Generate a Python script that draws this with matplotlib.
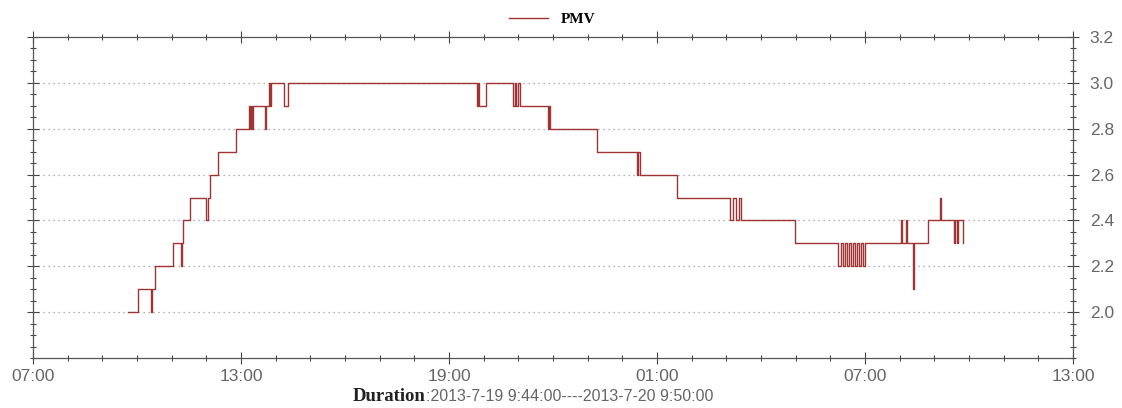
import numpy as np
import pandas as pd
import matplotlib
matplotlib.use("Agg")
import matplotlib.pyplot as plt
import matplotlib.dates as mdates
from matplotlib.ticker import MultipleLocator, FormatStrFormatter

# PMV readings (change points of the step series), 2013-07-19 09:44 -> 2013-07-20 09:50
pmv_times = [
    "2013-07-19 09:44", "2013-07-19 10:02", "2013-07-19 10:24", "2013-07-19 10:26",
    "2013-07-19 10:31", "2013-07-19 11:02", "2013-07-19 11:16", "2013-07-19 11:18",
    "2013-07-19 11:20", "2013-07-19 11:32", "2013-07-19 11:59", "2013-07-19 12:03",
    "2013-07-19 12:06", "2013-07-19 12:20", "2013-07-19 12:51", "2013-07-19 13:14",
    "2013-07-19 13:16", "2013-07-19 13:17", "2013-07-19 13:19", "2013-07-19 13:21",
    "2013-07-19 13:42", "2013-07-19 13:43", "2013-07-19 13:48", "2013-07-19 13:50",
    "2013-07-19 13:52", "2013-07-19 14:14", "2013-07-19 14:21", "2013-07-19 19:48",
    "2013-07-19 19:50", "2013-07-19 19:52", "2013-07-19 20:04", "2013-07-19 20:51",
    "2013-07-19 20:54", "2013-07-19 20:56", "2013-07-19 20:59", "2013-07-19 21:03",
    "2013-07-19 21:51", "2013-07-19 21:53", "2013-07-19 21:55", "2013-07-19 23:16",
    "2013-07-20 00:25", "2013-07-20 00:27", "2013-07-20 00:30", "2013-07-20 01:35",
    "2013-07-20 03:06", "2013-07-20 03:11", "2013-07-20 03:16", "2013-07-20 03:22",
    "2013-07-20 03:26", "2013-07-20 04:59", "2013-07-20 06:13", "2013-07-20 06:18",
    "2013-07-20 06:22", "2013-07-20 06:25", "2013-07-20 06:29", "2013-07-20 06:32",
    "2013-07-20 06:36", "2013-07-20 06:39", "2013-07-20 06:43", "2013-07-20 06:46",
    "2013-07-20 06:50", "2013-07-20 06:53", "2013-07-20 06:56", "2013-07-20 07:00",
    "2013-07-20 08:02", "2013-07-20 08:04", "2013-07-20 08:11", "2013-07-20 08:13",
    "2013-07-20 08:23", "2013-07-20 08:25", "2013-07-20 08:49", "2013-07-20 09:10",
    "2013-07-20 09:12", "2013-07-20 09:34", "2013-07-20 09:36", "2013-07-20 09:39",
    "2013-07-20 09:41", "2013-07-20 09:50",
]
pmv_values = [
    2.0, 2.1, 2.0, 2.1,
    2.2, 2.3, 2.2, 2.3,
    2.4, 2.5, 2.4, 2.5,
    2.6, 2.7, 2.8, 2.9,
    2.8, 2.9, 2.8, 2.9,
    2.8, 2.9, 3.0, 2.9,
    3.0, 2.9, 3.0, 2.9,
    3.0, 2.9, 3.0, 2.9,
    3.0, 2.9, 3.0, 2.9,
    2.8, 2.9, 2.8, 2.7,
    2.6, 2.7, 2.6, 2.5,
    2.4, 2.5, 2.4, 2.5,
    2.4, 2.3, 2.2, 2.3,
    2.2, 2.3, 2.2, 2.3,
    2.2, 2.3, 2.2, 2.3,
    2.2, 2.3, 2.2, 2.3,
    2.4, 2.3, 2.4, 2.3,
    2.1, 2.3, 2.4, 2.5,
    2.4, 2.3, 2.4, 2.3,
    2.4, 2.3,
]

x_start = "2013-07-19 07:00"
x_end = "2013-07-20 13:00"
y_ticks = [2.0, 2.2, 2.4, 2.6, 2.8, 3.0, 3.2]
duration_text = ":2013-7-19 9:44:00----2013-7-20 9:50:00"

t = pd.to_datetime(pmv_times)

fig = plt.figure(figsize=(11.22, 4.08), dpi=100)
ax = fig.add_axes([0.0294, 0.1225, 0.9269, 0.7868])

ax.plot(t, pmv_values, drawstyle="steps-post", color="#a03434", lw=1.0, label="PMV")

ax.set_xlim(pd.Timestamp(x_start), pd.Timestamp(x_end))
ax.set_ylim(1.8, 3.2)

# x axis: major ticks every 6 h, minor every hour
ax.xaxis.set_major_locator(mdates.HourLocator(byhour=[1, 7, 13, 19]))
ax.xaxis.set_minor_locator(mdates.HourLocator())
ax.xaxis.set_major_formatter(mdates.DateFormatter("%H:%M"))

# y axis labels on the right
ax.set_yticks(y_ticks)
ax.yaxis.set_minor_locator(MultipleLocator(0.05))
ax.yaxis.set_major_formatter(FormatStrFormatter("%.1f"))
ax.tick_params(axis="both", which="both", direction="inout", colors="#444444",
               top=True, right=True, left=True, labelleft=False, labelright=True)
ax.tick_params(axis="both", which="major", length=8, width=0.8, labelsize=12.5,
               labelcolor="#666666")
ax.tick_params(axis="x", which="major", pad=4)
ax.tick_params(axis="y", which="major", pad=8)
ax.tick_params(axis="both", which="minor", length=4, width=0.8)
for lab in ax.get_xticklabels() + ax.get_yticklabels():
    lab.set_family("Liberation Sans")

for s in ax.spines.values():
    s.set_color("#555555")
    s.set_linewidth(0.9)

# dotted horizontal grid
for yv in y_ticks[:-1]:
    ax.axhline(yv, color="#999999", lw=0.9, ls=(0, (1, 3)), zorder=0)

fig.legend(loc="center", bbox_to_anchor=(0.492, 0.952), frameon=False,
           handlelength=2.6, handletextpad=0.8,
           prop={"family": "Liberation Serif", "weight": "bold", "size": 11})

fig.text(0.379, 0.027, "Duration", ha="right", va="center",
         family="Liberation Serif", weight="bold", fontsize=13.5, color="#222222")
fig.text(0.380, 0.027, duration_text, ha="left", va="center",
         family="Liberation Sans", fontsize=11.5, color="#666666")

fig.savefig("out.png", dpi=100)
